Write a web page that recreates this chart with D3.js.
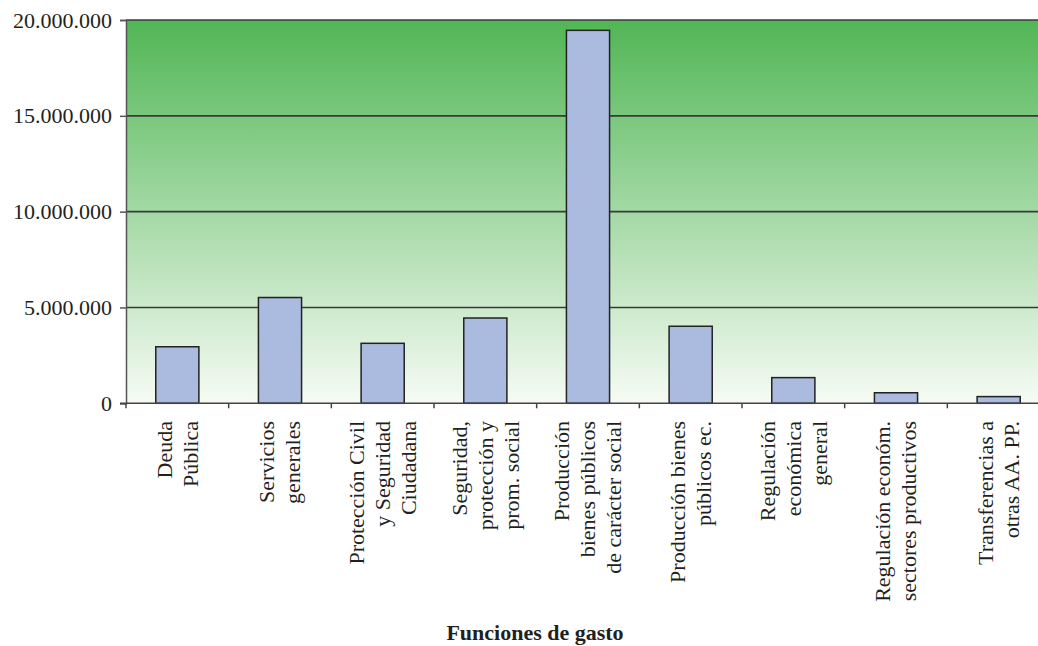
<!DOCTYPE html>
<html>
<head>
<meta charset="utf-8">
<script src="https://cdn.jsdelivr.net/npm/d3@7"></script>
<style>
  html, body { margin: 0; padding: 0; background: #fff; }
  svg { display: block; }
</style>
</head>
<body>
<svg id="chart" width="1038" height="646"></svg>
<script>
// ---- data ----
const categories = [
  "Deuda Pública",
  "Servicios generales",
  "Protección Civil y Seguridad Ciudadana",
  "Seguridad, protección y prom. social",
  "Producción bienes públicos de carácter social",
  "Producción bienes públicos ec.",
  "Regulación económica general",
  "Regulación económ. sectores productivos",
  "Transferencias a otras AA. PP."
];
const categoryLines = [
  ["Deuda", "Pública"],
  ["Servicios", "generales"],
  ["Protección Civil", "y Seguridad", "Ciudadana"],
  ["Seguridad,", "protección y", "prom. social"],
  ["Producción", "bienes públicos", "de carácter social"],
  ["Producción bienes", "públicos ec."],
  ["Regulación", "económica", "general"],
  ["Regulación económ.", "sectores productivos"],
  ["Transferencias a", "otras AA. PP."]
];
const values = [2950000, 5520000, 3130000, 4450000, 19460000, 4020000, 1340000, 550000, 350000];
const yTicks = [0, 5000000, 10000000, 15000000, 20000000];
const yTickLabels = ["0", "5.000.000", "10.000.000", "15.000.000", "20.000.000"];
const xTitle = "Funciones de gasto";

(function () {
// ---- layout ----
const svg = d3.select("#chart");
const pLeft = 126, pRight = 1050, pTop = 20, pBottom = 403.3;
const font = "'Liberation Serif', 'Times New Roman', serif";

const x = d3.scaleBand().domain(categories).range([pLeft, pRight])
  .paddingInner(0.58).paddingOuter(0.29);
const y = d3.scaleLinear().domain([0, 20000000]).range([pBottom, pTop]);

// gradient background
const defs = svg.append("defs");
const grad = defs.append("linearGradient").attr("id", "bg")
  .attr("x1", 0).attr("y1", 0).attr("x2", 0).attr("y2", 1);
grad.append("stop").attr("offset", "0%").attr("stop-color", "#51b655");
grad.append("stop").attr("offset", "100%").attr("stop-color", "#f6fbf4");

svg.append("rect")
  .attr("x", pLeft).attr("y", pTop)
  .attr("width", pRight - pLeft).attr("height", pBottom - pTop)
  .attr("fill", "url(#bg)");

// gridlines
svg.append("g").selectAll("line")
  .data(yTicks.filter(d => d > 0))
  .join("line")
  .attr("x1", pLeft).attr("x2", pRight)
  .attr("y1", d => y(d)).attr("y2", d => y(d))
  .attr("stroke", "#3a3a3a").attr("stroke-width", 1.6);

// bars
svg.append("g").selectAll("rect")
  .data(values)
  .join("rect")
  .attr("x", (d, i) => x(categories[i]))
  .attr("width", x.bandwidth())
  .attr("y", d => y(d))
  .attr("height", d => pBottom - y(d))
  .attr("fill", "#abbadf")
  .attr("stroke", "#222")
  .attr("stroke-width", 1.5);

// y axis
const yAxis = d3.axisLeft(y).tickValues(yTicks)
  .tickFormat((d, i) => yTickLabels[i]).tickSize(6).tickPadding(8);
const gy = svg.append("g").attr("transform", `translate(${pLeft},0)`).call(yAxis);
gy.select(".domain").attr("stroke", "#555").attr("stroke-width", 1.5);
gy.selectAll(".tick line").attr("stroke", "#555").attr("stroke-width", 1.5);
gy.selectAll(".tick text")
  .attr("font-family", font).attr("font-size", 22).attr("fill", "#231f20");

// x axis line + boundary ticks
const boundaries = d3.range(categories.length + 1).map(i => pLeft + i * x.step());
svg.append("line")
  .attr("x1", pLeft - 6).attr("x2", pRight)
  .attr("y1", pBottom).attr("y2", pBottom)
  .attr("stroke", "#444").attr("stroke-width", 1.5);
svg.append("g").selectAll("line")
  .data(boundaries)
  .join("line")
  .attr("x1", d => d).attr("x2", d => d)
  .attr("y1", pBottom).attr("y2", pBottom + 5)
  .attr("stroke", "#444").attr("stroke-width", 1.5);

// category labels (rotated)
const lh = 26;
const lab = svg.append("g");
categories.forEach((c, i) => {
  const cx = x(c) + x.bandwidth() / 2;
  const lines = categoryLines[i];
  const n = lines.length;
  lines.forEach((t, j) => {
    const px = cx + (j - (n - 1) / 2) * lh;
    lab.append("text")
      .attr("transform", `translate(${px},421) rotate(-90)`)
      .attr("text-anchor", "end")
      .attr("dy", "0.33em")
      .attr("font-family", font).attr("font-size", 22)
      .attr("fill", "#231f20")
      .text(t);
  });
});

// x title
svg.append("text")
  .attr("x", 535).attr("y", 640)
  .attr("text-anchor", "middle")
  .attr("font-family", font).attr("font-size", 22).attr("font-weight", "bold")
  .attr("fill", "#231f20")
  .text(xTitle);
})();
</script>
</body>
</html>
